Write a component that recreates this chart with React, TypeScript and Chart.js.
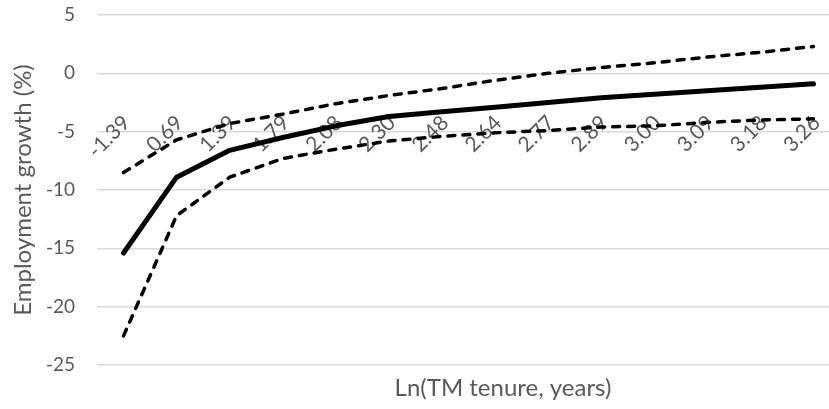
import React, { useEffect, useRef } from "react";
import { Chart, registerables } from "chart.js";

Chart.register(...registerables);

const categories = ["-1.39", "0.69", "1.39", "1.79", "2.08", "2.30", "2.48", "2.64", "2.77", "2.89", "3.00", "3.09", "3.18", "3.26"];
const estimate = [-15.4, -8.9, -6.6, -5.5, -4.5, -3.7, -3.3, -2.9, -2.5, -2.1, -1.8, -1.5, -1.2, -0.9];
const upperBound = [-8.5, -5.7, -4.3, -3.5, -2.6, -1.9, -1.3, -0.6, 0.0, 0.5, 0.9, 1.4, 1.8, 2.3];
const lowerBound = [-22.5, -12.2, -8.9, -7.3, -6.5, -5.8, -5.4, -5.1, -4.9, -4.6, -4.5, -4.2, -4.0, -3.9];

const yTitle = "Employment growth (%)";
const xTitle = "Ln(TM tenure, years)";

const FONT = "Lato, 'Open Sans', sans-serif";
const GREY = "#595959";

const bottomTitlePlugin = {
  id: "bottomTitle",
  afterDraw(chart: any) {
    const ctx = chart.ctx;
    ctx.save();
    ctx.font = `24px ${FONT}`;
    ctx.fillStyle = GREY;
    ctx.textAlign = "center";
    ctx.textBaseline = "middle";
    ctx.fillText(xTitle, 503, 388);
    ctx.restore();
  },
};

export default function App() {
  const ref = useRef<HTMLCanvasElement | null>(null);

  useEffect(() => {
    document.body.style.margin = "0";
    const canvas = ref.current;
    if (!canvas) return;
    const dashed = {
      borderColor: "#000",
      borderWidth: 3.5,
      borderDash: [7, 8],
      borderCapStyle: "round",
      borderJoinStyle: "round",
      pointRadius: 0,
      tension: 0,
      fill: false,
    };
    const chart = new Chart(canvas, {
      type: "line",
      data: {
        labels: categories,
        datasets: [
          { label: "Upper", data: upperBound, ...dashed } as any,
          {
            label: "Estimate",
            data: estimate,
            borderColor: "#000",
            borderWidth: 5,
            borderCapStyle: "round",
            borderJoinStyle: "round",
            pointRadius: 0,
            tension: 0,
            fill: false,
          },
          { label: "Lower", data: lowerBound, ...dashed } as any,
        ],
      },
      options: {
        responsive: false,
        animation: false,
        devicePixelRatio: 1,
        layout: { padding: { top: 15, bottom: 44, left: 0, right: 0 } },
        plugins: {
          legend: { display: false },
          tooltip: { enabled: false },
        },
        scales: {
          x: {
            type: "category",
            position: { y: 0 } as any,
            offset: true,
            grid: { display: false, drawTicks: false },
            border: { display: false },
            ticks: {
              minRotation: 45,
              maxRotation: 45,
              autoSkip: false,
              padding: 37,
              labelOffset: 3,
              color: GREY,
              font: { family: FONT, size: 21 },
            },
            afterFit: (axis: any) => {
              axis.height = 0;
              axis.paddingLeft = 0;
              axis.paddingRight = 0;
            },
          },
          y: {
            min: -25,
            max: 5,
            ticks: {
              stepSize: 5,
              padding: 22,
              color: GREY,
              font: { family: FONT, size: 19 },
            },
            grid: { color: "#d9d9d9", lineWidth: 1.5, drawTicks: false },
            border: { display: false },
            title: {
              display: true,
              text: yTitle,
              color: GREY,
              font: { family: FONT, size: 24, weight: "normal" },
              padding: { top: 9, bottom: 0 },
            },
            afterFit: (axis: any) => {
              axis.width = 97;
              axis.paddingTop = 0;
              axis.paddingBottom = 0;
            },
          },
        },
      },
      plugins: [bottomTitlePlugin],
    });
    return () => chart.destroy();
  }, []);

  return (
    <div style={{ width: 829, height: 409, overflow: "hidden", position: "relative" }}>
      <canvas ref={ref} width={840} height={409} style={{ display: "block" }} />
    </div>
  );
}
